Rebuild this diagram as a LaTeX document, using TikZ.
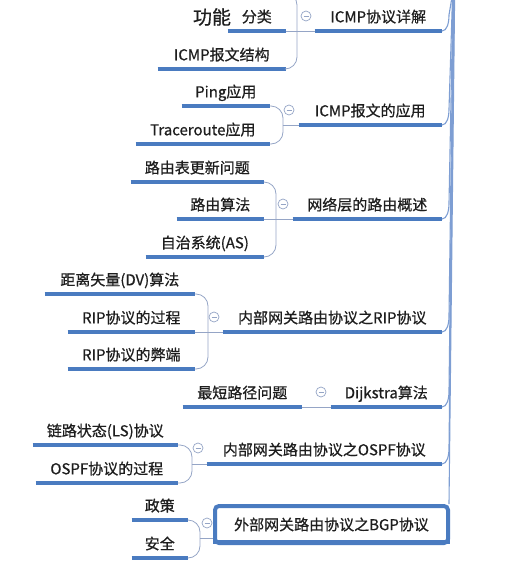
\documentclass[tikz,border=0pt]{standalone}
\usepackage{fontspec}
\setmainfont{Noto Sans CJK SC}[FakeBold=0.7]
\usetikzlibrary{calc}
\definecolor{ublue}{HTML}{4A7BC0}
\definecolor{lblue}{HTML}{7E9ED3}
\definecolor{bgray}{HTML}{95A5C6}
\definecolor{txt}{HTML}{1E1E1E}
\begin{document}
\begin{tikzpicture}[x=1pt,y=-1pt,
  topic/.style={anchor=south east, inner xsep=0pt, inner ysep=5.5pt, text height=11pt, text depth=3pt,
    font=\fontsize{15}{18}\selectfont, text=txt},
  uline/.style={draw=ublue, line width=3.8pt},
  brace/.style={draw=bgray, line width=0.8pt, rounded corners=12pt},
  trunk/.style={draw=lblue, line width=1.1pt},
  fold/.style={circle, draw=bgray, line width=0.7pt, minimum size=10pt, inner sep=0pt, fill=white,
    path picture={\draw[bgray, line width=0.7pt] ([xshift=-2.5pt]path picture bounding box.center) -- ([xshift=2.5pt]path picture bounding box.center);}},
  bgpbox/.style={draw=ublue, line width=4pt, rounded corners=4pt, anchor=north west, inner sep=0pt,
    minimum width=233pt, minimum height=37pt, font=\fontsize{15}{18}\selectfont, text=txt}
]
\useasboundingbox (0,0) rectangle (517,568);
\clip (0,0) rectangle (517,568);

% parents
\node[topic, minimum width=127pt] (icmpd) at (442,31) {ICMP协议详解};
\node[topic, minimum width=143pt] (icmpa) at (442,125) {ICMP报文的应用};
\node[topic, minimum width=149pt] (route) at (442,219) {网络层的路由概述};
\node[topic, minimum width=219pt] (rip) at (442,332) {内部网关路由协议之RIP协议};
\node[topic, minimum width=111pt] (dijk) at (442,407) {Dijkstra算法};
\node[topic, minimum width=235pt] (ospf) at (442,464) {内部网关路由协议之OSPF协议};

% children
\node[font=\fontsize{19}{19}\selectfont, text=txt] (gn) at (212,17) {功能};
\coordinate (c10) at (286,-7);
\node[topic, minimum width=58pt] (c11) at (286,31) {分类};
\node[topic, minimum width=128pt] (c12) at (286,69) {ICMP报文结构};
\node[topic, minimum width=88pt] (c21) at (270,106) {Ping应用};
\node[topic, minimum width=134pt] (c22) at (270,144) {Traceroute应用};
\node[topic, minimum width=133pt] (c31) at (264,182) {路由表更新问题};
\node[topic, minimum width=87pt] (c32) at (264,219) {路由算法};
\node[topic, minimum width=118pt] (c33) at (264,257) {自治系统(AS)};
\node[topic, minimum width=150pt] (c41) at (195,294) {距离矢量(DV)算法};
\node[topic, minimum width=127pt] (c42) at (195,332) {RIP协议的过程};
\node[topic, minimum width=127pt] (c43) at (195,369) {RIP协议的弊端};
\node[topic, minimum width=119pt] (c51) at (302,407) {最短路径问题};
\node[topic, minimum width=145pt] (c61) at (178,445) {链路状态(LS)协议};
\node[topic, minimum width=142pt] (c62) at (178,483) {OSPF协议的过程};
\node[topic, minimum width=56pt] (c71) at (188,520) {政策};
\node[topic, minimum width=56pt] (c72) at (188,558) {安全};

\foreach \n in {icmpd,icmpa,route,rip,dijk,ospf,c11,c12,c21,c22,c31,c32,c33,c41,c42,c43,c51,c61,c62,c71,c72}
  \draw[uline] (\n.south west) -- (\n.south east);

% top of trunk
\coordinate (t1) at (452.0,-3);
\coordinate (t2) at (452.5,-3);
\coordinate (t3) at (453.0,-3);
\coordinate (t4) at (453.4,-3);
\coordinate (t5) at (453.8,-3);
\coordinate (t6) at (454.2,-3);
\coordinate (t7) at (454.6,-3);

\foreach \p/\i in {icmpd/1,icmpa/2,route/3,rip/4,dijk/5,ospf/6}
  \draw[trunk] (\p.south east) .. controls +(5,0) and +(0,8) .. ++(7,-16) -- (t\i);

% braces
\coordinate (j1) at (297,31);
\draw[brace] (icmpd.south west) -- (j1);
\draw[brace] (j1) |- (c10);
\draw[brace] (j1) -- (c11.south east);
\draw[brace] (j1) |- (c12.south east);

\coordinate (j2) at (283,125);
\draw[brace] (icmpa.south west) -- (j2);
\draw[brace] (j2) |- (c21.south east);
\draw[brace] (j2) |- (c22.south east);

\coordinate (j3) at (276,219);
\draw[brace] (route.south west) -- (j3);
\draw[brace] (j3) |- (c31.south east);
\draw[brace] (j3) -- (c32.south east);
\draw[brace] (j3) |- (c33.south east);

\coordinate (j4) at (208,332);
\draw[brace] (rip.south west) -- (j4);
\draw[brace] (j4) |- (c41.south east);
\draw[brace] (j4) -- (c42.south east);
\draw[brace] (j4) |- (c43.south east);

\draw[brace] (dijk.south west) -- (c51.south east);

\coordinate (j6) at (192,464);
\draw[brace] (ospf.south west) -- (j6);
\draw[brace] (j6) |- (c61.south east);
\draw[brace] (j6) |- (c62.south east);

% fold markers
\node[fold] (m1) at (306,16) {};
\node[fold] (m2) at (289,110) {};
\node[fold] (m3) at (283,204) {};
\node[fold] (m4) at (214,317) {};
\node[fold] (m5) at (321,392) {};
\node[fold] (m6) at (198,448) {};
\node[fold] (m7) at (207,523) {};

% BGP
\node[bgpbox] (bgp) at (213,504) {外部网关路由协议之BGP协议};
\draw[uline] ($(bgp.south west)+(0,-3)$) -- ($(bgp.south east)+(0,-3)$);
\draw[trunk] ($(bgp.north east)+(-1,0)$) -- (t7);
\coordinate (j7) at (200,538);
\draw[brace] (j7) -- (bgp.west |- j7);
\draw[brace] (j7) |- (c71.south east);
\draw[brace] (j7) |- (c72.south east);
\end{tikzpicture}
\end{document}
